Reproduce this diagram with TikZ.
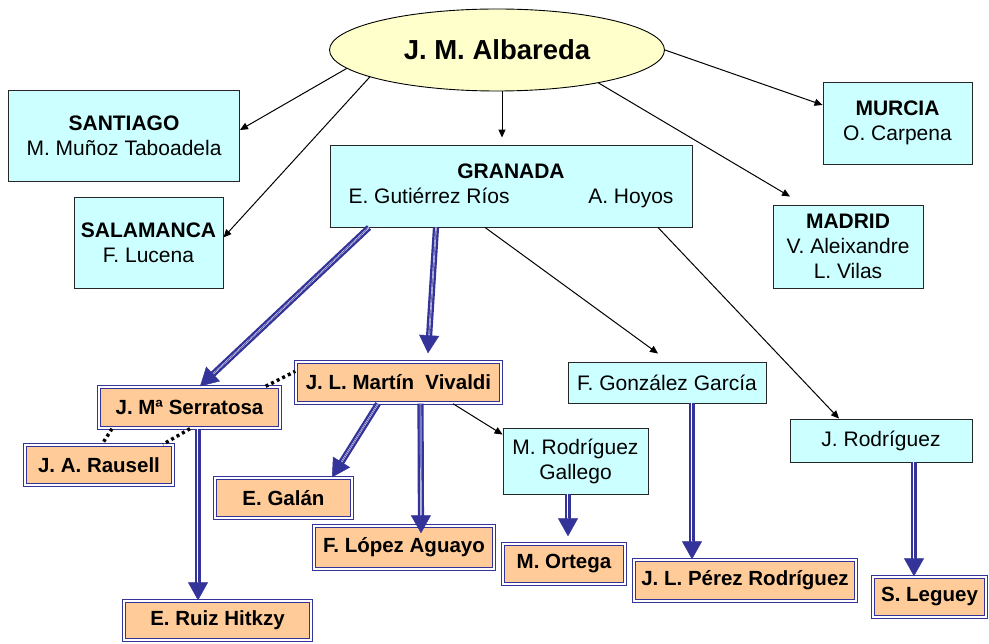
\documentclass[tikz,border=0pt]{standalone}
\usepackage{fontspec}
\setmainfont{Liberation Sans}
\usetikzlibrary{arrows.meta,shapes.geometric}
\definecolor{ablue}{HTML}{333399}
\definecolor{cyanbox}{HTML}{CCFFFF}
\definecolor{peach}{HTML}{FFCC99}
\definecolor{yell}{HTML}{FFFFCC}
\begin{document}
\begin{tikzpicture}[x=1pt,y=-1pt,
 cbox/.style={draw=black!85, line width=0.9pt, fill=cyanbox, inner sep=0pt, align=center, font=\fontsize{21}{25}\selectfont},
 obox/.style={draw=ablue, double=white, line width=1.4pt, double distance=1.2pt, fill=peach, inner sep=0pt, font=\bfseries\fontsize{20.5}{24}\selectfont},
 thinarrow/.style={draw=black, line width=1pt, -{Triangle[length=8pt,width=7pt]}},
 tipline/.style={draw=ablue, line width=0.5pt, -{Triangle[length=18pt,width=20pt]}},
 dblshaft/.style={draw=ablue, double=white, line width=2.4pt, double distance=1.4pt, shorten >=16pt},
 dotline/.style={draw=black, line width=3.4pt, line cap=butt, dash pattern=on 3pt off 3.2pt},
]
\useasboundingbox (0,0) rectangle (989,644);

% top ellipse
\node[ellipse, draw=black, line width=0.9pt, fill=yell, minimum width=335pt, minimum height=82pt, inner sep=0pt, font=\bfseries\fontsize{27.5}{30}\selectfont] (alb) at (497,50) {J. M. Albareda};

% cyan boxes
\node[cbox, minimum width=231pt, minimum height=91pt] (sant) at (124,136) {\textbf{SANTIAGO}\\M. Muñoz Taboadela};
\node[cbox, minimum width=149pt, minimum height=91pt] (salam) at (148.5,242.5) {\textbf{SALAMANCA}\\F. Lucena};
\node[cbox, minimum width=362pt, minimum height=82pt] (gran) at (511,186) {\textbf{GRANADA}\\\makebox[325pt]{E. Gutiérrez Ríos\hfill A. Hoyos}};
\node[cbox, minimum width=149pt, minimum height=82pt] (murc) at (897.5,123) {\textbf{MURCIA}\\O. Carpena};
\node[cbox, minimum width=150pt, minimum height=83pt] (madr) at (848,246.5) {\textbf{MADRID}\\V. Aleixandre\\L. Vilas};
\node[cbox, minimum width=198pt, minimum height=41pt] (gonz) at (667,382.5) {F. González García};
\node[cbox, minimum width=145pt, minimum height=66pt] (mrg) at (575.5,461) {M. Rodríguez\\Gallego};
\node[cbox, minimum width=182pt, minimum height=43pt] (jrod) at (881,440.5) {J. Rodríguez};

% orange boxes
\node[obox, minimum width=181pt, minimum height=41pt] (serr) at (189.5,407.5) {J. Mª Serratosa};
\node[obox, minimum width=148pt, minimum height=40pt] (raus) at (99,465) {J. A. Rausell};
\node[obox, minimum width=205pt, minimum height=41pt] (viv) at (398.5,382.5) {J. L. Martín\ \ Vivaldi};
\node[obox, minimum width=137pt, minimum height=40pt] (galan) at (283.5,498) {E. Galán};
\node[obox, minimum width=180pt, minimum height=43pt] (lopez) at (404,547.5) {F. López Aguayo};
\node[obox, minimum width=122pt, minimum height=40pt] (ortega) at (564,564) {M. Ortega};
\node[obox, minimum width=222pt, minimum height=41pt] (perez) at (745,580.5) {J. L. Pérez Rodríguez};
\node[obox, minimum width=113pt, minimum height=40pt] (leguey) at (929.5,597) {S. Leguey};
\node[obox, minimum width=187pt, minimum height=39pt] (ruiz) at (217.5,620.5) {E. Ruiz Hitkzy};

% thin arrows
\draw[thinarrow] (alb.187) -- ([yshift=6pt]sant.east);
\draw[thinarrow] (alb.192) -- ([yshift=5pt]salam.east);
\draw[thinarrow] ([xshift=5pt]alb.south) -- ([xshift=-9pt,yshift=7pt]gran.north);
\draw[thinarrow] (alb.east) -- ([yshift=18pt]murc.west);
\draw[thinarrow] (alb.342) -- ([xshift=-58pt,yshift=8pt]madr.north);
\draw[thinarrow] ([xshift=-26pt]gran.south) -- ([xshift=-9pt,yshift=8pt]gonz.north);
\draw[thinarrow] ([xshift=147pt]gran.south) -- ([xshift=-42pt]jrod.north);
\draw[thinarrow] ([xshift=54.5pt]viv.south) -- ([yshift=-7pt]mrg.north west);

% thick double arrows
\coordinate (s1) at ([xshift=-142pt]gran.south);
\coordinate (e1) at ([xshift=10.5pt]serr.north);
\coordinate (s2) at ([xshift=-75pt]gran.south);
\coordinate (e2) at ([xshift=29.5pt,yshift=8pt]viv.north);
\coordinate (s3) at ([xshift=-20.5pt]viv.south);
\coordinate (e3) at ([xshift=48.5pt]galan.north);
\coordinate (s4) at ([xshift=22pt]viv.south);
\coordinate (e4) at ([xshift=17pt,yshift=-8pt]lopez.north);
\coordinate (s5) at ([xshift=8.5pt]serr.south);
\coordinate (e5) at ([xshift=-19.5pt]ruiz.north);
\coordinate (s6) at ([xshift=-7.5pt]mrg.south);
\coordinate (e6) at ([xshift=4pt,yshift=7pt]ortega.north);
\coordinate (s7) at ([xshift=25pt]gonz.south);
\coordinate (e7) at ([xshift=-53pt]perez.north);
\coordinate (s8) at ([xshift=33pt]jrod.south);
\coordinate (e8) at ([xshift=-15.5pt]leguey.north);
\foreach \i in {1,...,8}{
  \draw[dblshaft] (s\i) -- (e\i);
  \draw[tipline] (s\i) -- (e\i);
}

% dotted links
\draw[dotline] ([xshift=-15pt]serr.north east) -- ([yshift=-10pt]viv.north west);
\draw[dotline] ([xshift=-77.5pt]serr.south) -- ([xshift=3pt]raus.north);
\draw[dotline] ([xshift=0.5pt]serr.south) -- ([xshift=64pt]raus.north);
\end{tikzpicture}
\end{document}
